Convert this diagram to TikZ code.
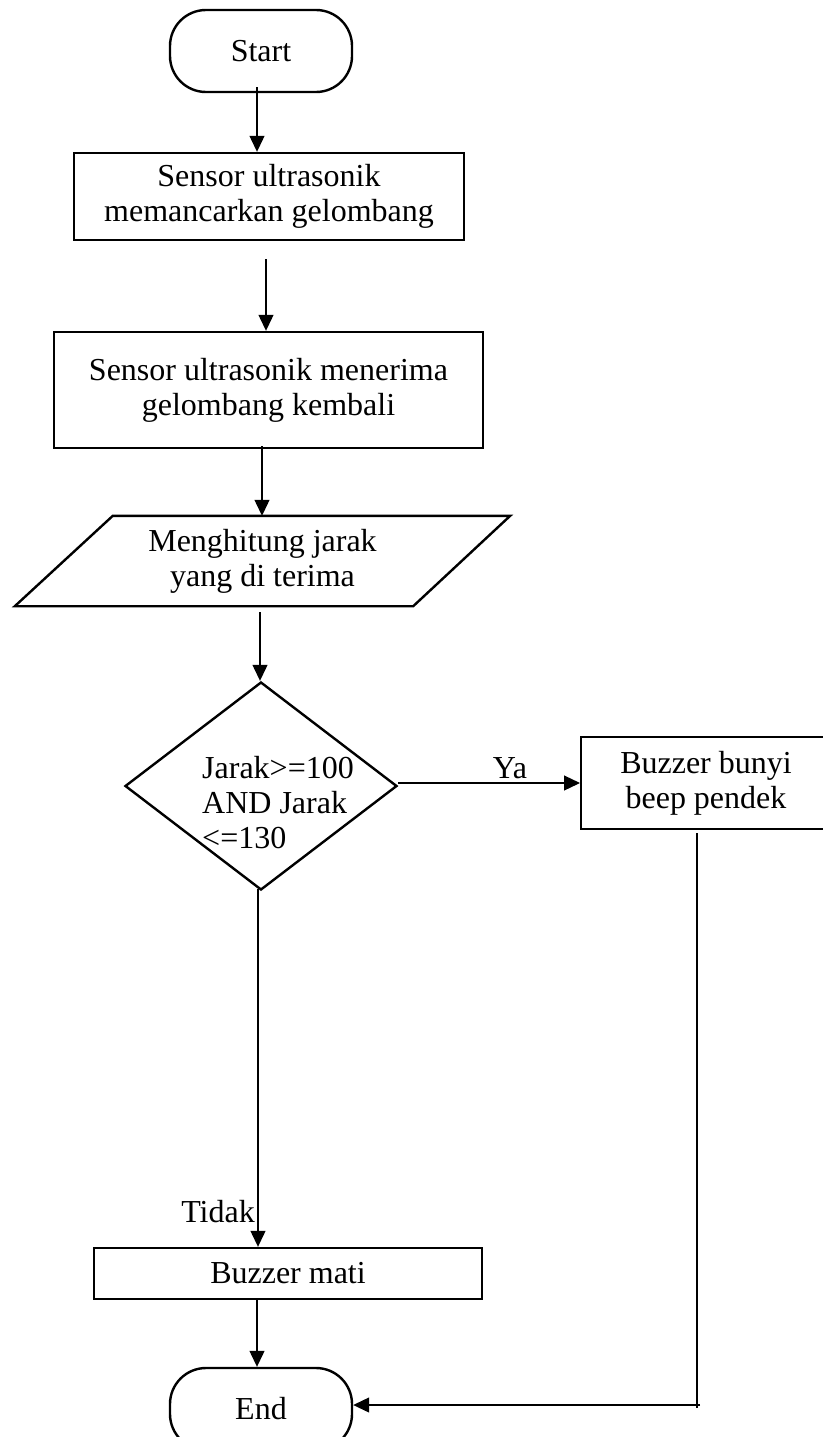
\documentclass[tikz,border=0pt]{standalone}
\usepackage{fontspec}
\setmainfont{Liberation Serif}
\usetikzlibrary{shapes.geometric,arrows.meta,calc}
\begin{document}
\begin{tikzpicture}[x=1pt,y=1pt,
  every node/.style={font=\fontsize{32}{35}\selectfont, inner sep=0pt},
  box/.style={draw, line width=2.4pt, align=center},
  term/.style={draw, line width=2.4pt, rounded corners=36pt, minimum width=182pt, minimum height=82pt},
  dec/.style={draw, line width=2.4pt, shape=diamond, minimum width=272pt, minimum height=208pt},
  arr/.style={line width=1.2pt, -{Triangle[length=16pt,width=15pt]}},
  ln/.style={line width=1.2pt},
  lbl/.style={anchor=base}]
\useasboundingbox (0,0) rectangle (822,-1437);

\node[term] (start) at (261,-51) {Start};
\node[box, minimum width=390pt, minimum height=87pt] (b1) at (269,-196.5) {Sensor ultrasonik\\memancarkan gelombang};
\node[box, minimum width=429pt, minimum height=116pt] (b2) at (268.5,-390) {Sensor ultrasonik menerima\\gelombang kembali};
\node[align=center, minimum width=495pt, minimum height=90pt] (para) at (262.5,-561) {Menghitung jarak\\yang di terima};
\draw[line width=2.4pt, line join=miter] (para.north east) -- ([xshift=-97pt]para.south east) -- (para.south west) -- ([xshift=98pt]para.north west) -- cycle;
\node[dec] (dia) at (261,-786) {};
\node[align=left, anchor=west] (dtxt) at (202,-803) {Jarak>=100\\AND Jarak\\<=130};
\node[box, minimum width=290pt, minimum height=92pt, anchor=west] (ybox) at (580,-783) {};
\node[align=center] (ytxt) at (706,-783) {Buzzer bunyi\\beep pendek};
\node[box, minimum width=388pt, minimum height=51pt] (mati) at (288,-1273.5) {Buzzer mati};
\node[term] (end) at (261,-1409) {End};

\node[lbl] (ya) at (510,-778) {Ya};
\node[anchor=base east] (tidak) at (255,-1222) {Tidak};

\draw[arr] ([xshift=-4pt,yshift=6pt]start.south) -- ([xshift=-12pt]b1.north);
\draw[arr] ([xshift=-3pt,yshift=-18pt]b1.south) -- ([xshift=-2.5pt]b2.north);
\draw[arr] ([xshift=-6.5pt,yshift=3pt]b2.south) -- ([xshift=-0.5pt]para.north);
\draw[arr] ([xshift=-2.5pt,yshift=-6pt]para.south) -- ([xshift=-1pt]dia.north);
\draw[arr] ([yshift=3pt]dia.east) -- (ybox.west);
\draw[arr] ([xshift=-3pt,yshift=2pt]dia.south) -- ([xshift=-30pt]mati.north);
\draw[arr] ([xshift=-31pt]mati.south) -- ([xshift=-4pt]end.north);
\coordinate (corner) at (697,-1405);
\draw[ln] (ybox.south -| corner) ++(0,-3) -- ([yshift=-3pt]corner);
\draw[arr] ([xshift=3pt]corner) -- ([yshift=4pt]end.east);
\end{tikzpicture}
\end{document}
